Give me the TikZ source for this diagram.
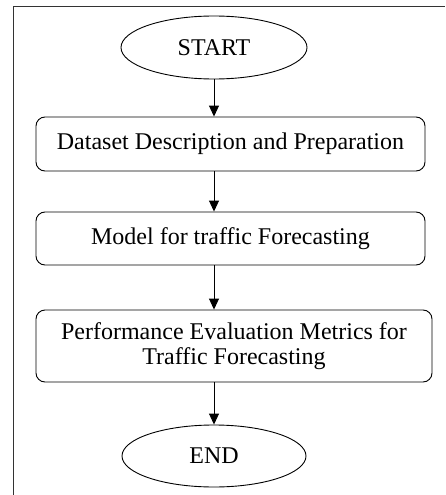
\documentclass[tikz,border=0pt]{standalone}
\usepackage{fontspec}
\setmainfont{Liberation Serif}
\usetikzlibrary{arrows.meta,shapes.geometric}
\begin{document}
\begin{tikzpicture}[x=1pt,y=-1pt,
  every node/.style={font=\fontsize{24}{25}\selectfont, inner sep=0pt},
  terminal/.style={ellipse, draw, line width=0.9pt},
  stepbox/.style={rectangle, rounded corners=9pt, draw, line width=0.9pt, align=center},
  arr/.style={line width=0.9pt, -{Triangle[width=10pt,length=11pt]}}]
\useasboundingbox (0,0) rectangle (445,495);
% frame
\draw[line width=1.8pt, black!80] (13.5,495) -- (13.5,6.5) -- (445,6.5);
% nodes
\node[terminal, minimum width=186pt, minimum height=63pt] (start) at (214,47.5) {START};
\node[stepbox, minimum width=389pt, minimum height=54pt] (b1) at (230.5,144) {Dataset Description and Preparation};
\node[stepbox, minimum width=389pt, minimum height=53pt] (b2) at (230.5,238.5) {Model for traffic Forecasting};
\node[stepbox, minimum width=396pt, minimum height=72pt] (b3) at (234,346) {Performance Evaluation Metrics for\\Traffic Forecasting};
\node[terminal, minimum width=184pt, minimum height=62pt] (end) at (214,456) {END};
% connectors
\draw[arr] (start.south) -- (start.south |- b1.north);
\draw[arr] (b1.south -| start.south) -- (b2.north -| start.south);
\draw[arr] (b2.south -| start.south) -- (b3.north -| start.south);
\draw[arr] (b3.south -| end.north) -- (end.north);
\end{tikzpicture}
\end{document}
